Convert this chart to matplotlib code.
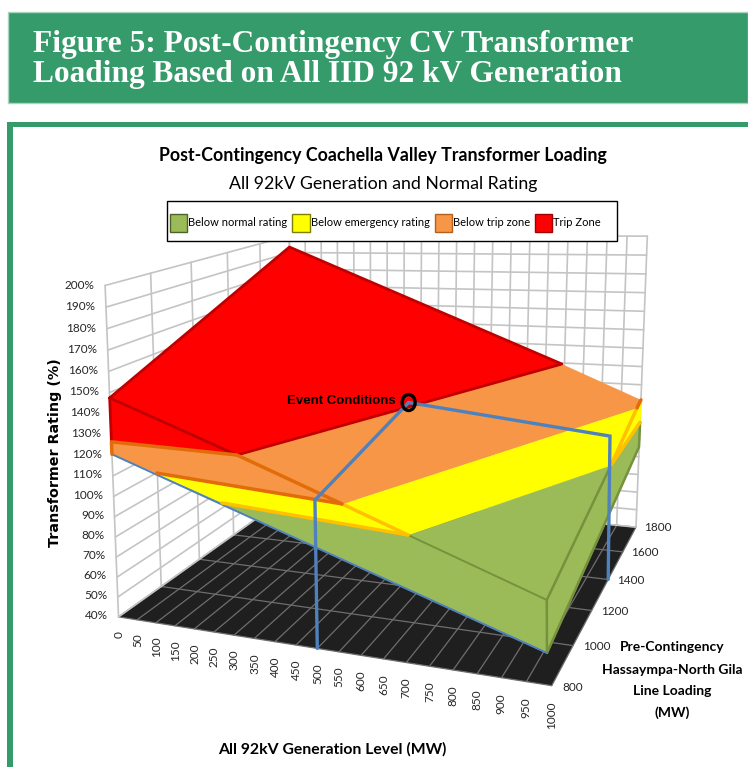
import numpy as np
import matplotlib
matplotlib.use('Agg')
import matplotlib.pyplot as plt
from matplotlib.patches import Ellipse, Patch, Rectangle
from matplotlib.transforms import IdentityTransform
from mpl_toolkits.mplot3d import proj3d
from mpl_toolkits.mplot3d.art3d import Line3DCollection, Poly3DCollection

plt.rcParams['font.family'] = ['Lato', 'DejaVu Sans']

W, H = 748, 767

gen_ticks = list(range(0, 1001, 50))
load_ticks = [800, 1000, 1200, 1400, 1600, 1800]
pct_ticks = list(range(40, 201, 10))

legend_labels = ['Below normal rating', 'Below emergency rating', 'Below trip zone', 'Trip Zone']

# surface vertices as (generation MW, line loading MW, rating %)
a = (0, 800, 147.5)
l = (0, 800, 126.5)
w = (0, 800, 120.5)
m = (116, 800, 113.5)
p = (278, 800, 102.5)
f = (986, 800, 76.4)
g = (989, 800, 53.8)
c = (0, 1800, 193.3)
d = (793, 1800, 129.4)
e = (1000, 1800, 111.7)
q = (1000, 1739, 110.2)
r = (1000, 1384, 99.2)
t = (1000, 1800, 99.3)
s = (1000, 1798, 85.6)
b = (229, 975, 114.2)
n = (484, 987, 94.4)
o = (637, 994, 82.4)

# event conditions and its drop lines
event = (500, 1400, 123)
event_front = [event, (498, 800, 108.3), (500, 800, 40)]
event_right = [event, (1000, 1357, 115), (1000, 1400, 40)]

GREEN = '#9bbb59'
YELLOW = '#ffff00'
ORANGE = '#f79646'
RED = '#ff0000'
DK_GREEN = '#76923c'
DK_ORANGE = '#e36c0a'
AMBER = '#ffc000'
DK_RED = '#c00000'
BLUE = '#4f81bd'
FRAME = '#369b6a'

# the facets, back to front
facets = [
    ([a, c, d, b], RED),
    ([a, l, b], RED),
    ([l, b, n, m, w], ORANGE),
    ([m, n, o, p], YELLOW),
    ([w, p, o, f, g], GREEN),
    ([b, d, e, q, n], ORANGE),
    ([n, q, r, o], YELLOW),
    ([o, r, f], GREEN),
    ([f, g, s, t, r], GREEN),
    ([q, e, t, r], YELLOW),
]

creases = [
    ([p, o, f], DK_GREEN, 1.4),
    ([t, s, g, f, r], DK_GREEN, 1.8),
    ([w, g], BLUE, 1.4),
    ([a, c, d, b, a, l], DK_RED, 2),
    ([n, o], AMBER, 2.5),
    ([p, o], AMBER, 2.5),
    ([q, r, t], AMBER, 2.5),
    ([w, l, b, n], DK_ORANGE, 2.5),
    ([m, n], DK_ORANGE, 2.5),
    ([e, q], DK_ORANGE, 2.5),
]

# picture positions of known chart points, used only to fit the camera
camera_points = [
    ((0, 800, 40), (119, 618)), ((1000, 800, 40), (549, 685)),
    ((1000, 1800, 40), (637, 524)), ((0, 800, 200), (106, 283)),
    ((1000, 1800, 200), (648, 237)), ((0, 1800, 200), (288, 237)),
    ((500, 800, 40), (318, 648)), ((1000, 1000, 40), (574, 647)),
    ((1000, 1200, 40), (592, 612)), ((1000, 1400, 40), (607, 580)),
    ((1000, 1600, 40), (623, 552)),
]


def fit_camera(ax):
    # Excel's perspective is not one mplot3d can ask for, so solve for it
    to_view = ax.transData.inverted()
    scale3d = np.diag([1 / 1000, 1 / 1000, 1 / 100, 1.0])
    rows = []
    for xyz, (u, v) in camera_points:
        x = scale3d @ np.array([*xyz, 1.0])
        vu, vv = to_view.transform((u, H - v)) * 10
        rows.append([*x, 0, 0, 0, 0, *(-vu * x)])
        rows.append([0, 0, 0, 0, *x, *(-vv * x)])
    sol = np.linalg.svd(np.array(rows))[2][-1].reshape(3, 4)
    cam = np.diag([0.1, 0.1, 1.0]) @ sol @ scale3d
    return np.array([cam[0], cam[1], [0, 1e-3, 0, 0], cam[2]])


def draw_line(ax, pts, color, lw, zorder, join='round'):
    ax.add_collection3d(Line3DCollection([pts], colors=color, linewidths=lw, zorder=zorder,
                                         joinstyle=join, capstyle='round'), autolim=False)


def view_xy(ax, x, y, z):
    tx, ty, _ = proj3d.proj_transform(x, y, z, ax.get_proj())
    return tx, ty


def label_at(ax, x, y, z, text, **kw):
    tx, ty = view_xy(ax, x, y, z)
    ax.text2D(tx, ty, text, transform=ax.transData, **kw)


fig = plt.figure(figsize=(W / 100, H / 100), dpi=100, facecolor='white')

# page furniture behind the chart
fig.add_artist(Rectangle((8 / W, 1 - 103 / H), 740 / W, 91 / H, transform=fig.transFigure,
                         fc=FRAME, ec='#a9d5bf', lw=1, zorder=-2))
fig.add_artist(Rectangle((7 / W, 0), 741 / W, 1 - 122 / H, transform=fig.transFigure,
                         fc=FRAME, ec='none', zorder=-2))
fig.add_artist(Rectangle((13 / W, 0), 735 / W, 1 - 127 / H, transform=fig.transFigure,
                         fc='white', ec='none', zorder=-1))
fig.text(33 / W, 1 - 52 / H, 'Figure 5: Post-Contingency CV Transformer', color='white',
         family='Liberation Serif', weight='bold', fontsize=22.6, va='baseline')
fig.text(33 / W, 1 - 82 / H, 'Loading Based on All IID 92 kV Generation', color='white',
         family='Liberation Serif', weight='bold', fontsize=22.6, va='baseline')

ax = fig.add_axes([0, 0, 1, 1], projection='3d', computed_zorder=False)
ax.set_axis_off()
ax.patch.set_visible(False)
ax.apply_aspect()
M = fit_camera(ax)
ax.get_proj = lambda: M

ax.set_xlim(0, 1000)
ax.set_ylim(800, 1800)
ax.set_zlim(40, 200)

# floor
floor = [(0, 800, 40), (1000, 800, 40), (1000, 1800, 40), (0, 1800, 40)]
ax.add_collection3d(Poly3DCollection([floor], facecolor='#1f1f1f', edgecolor='none', zorder=1),
                    autolim=False)
for x in gen_ticks:
    draw_line(ax, [(x, 800, 40), (x, 1800, 40)], '#6e6e6e', 0.9, 2)
for y in load_ticks:
    draw_line(ax, [(0, y, 40), (1000, y, 40)], '#6e6e6e', 0.9, 2)

# walls
for z in pct_ticks:
    draw_line(ax, [(0, 800, z), (0, 1800, z), (1000, 1800, z)], '#c4c4c4', 1.2, 2)
for y in load_ticks:
    draw_line(ax, [(0, y, 40), (0, y, 200)], '#c4c4c4', 1.2, 2)
for x in gen_ticks:
    draw_line(ax, [(x, 1800, 40), (x, 1800, 200)], '#c4c4c4', 1.2, 2)

# surface
for i, (verts, col) in enumerate(facets):
    ax.add_collection3d(Poly3DCollection([verts], facecolor=col, edgecolor=col, lw=0.3,
                                         zorder=3 + i * 0.01), autolim=False)
for i, (pts, col, lw) in enumerate(creases):
    draw_line(ax, pts, col, lw, 4 + i * 0.01)

# event conditions
draw_line(ax, event_front, BLUE, 2.4, 5, join='miter')
draw_line(ax, event_right, BLUE, 2.4, 5, join='miter')
marker_xy = ax.transData.transform(view_xy(ax, *event))
fig.add_artist(Ellipse(marker_xy, 13, 16, transform=IdentityTransform(), fill=False,
                       ec='black', lw=2.4, zorder=3))
label_at(ax, 465, 1400, 123.5, 'Event Conditions', family='Liberation Sans', weight='bold',
         fontsize=9.5, ha='right', va='center', color='black', zorder=7)

# tick labels
for x in gen_ticks:
    label_at(ax, x, 800, 33, str(x), rotation=90, ha='center', va='top', fontsize=8.5,
             color='#262626')
for y in load_ticks:
    label_at(ax, 1020, y, 40, str(y), ha='left', va='center', fontsize=8.5, color='#262626')
for z in pct_ticks:
    label_at(ax, -28, 800, z, '%d%%' % z, ha='right', va='center', fontsize=8.5, color='#262626')

# titles
fig.text(383 / W, 1 - 156 / H, 'Post-Contingency Coachella Valley Transformer Loading',
         ha='center', va='center', weight='bold', fontsize=12.8)
fig.text(383 / W, 1 - 184 / H, 'All 92kV Generation and Normal Rating', ha='center', va='center',
         fontsize=12.8)
fig.text(55 / W, 1 - 453 / H, 'Transformer Rating (%)', rotation=90, ha='center', va='center',
         family='DejaVu Sans', weight='bold', fontsize=10.3)
fig.text(332 / W, 1 - 749 / H, 'All 92kV Generation Level (MW)', ha='center', va='center',
         weight='bold', fontsize=11.3)
for text, ypos in zip(['Pre-Contingency', 'Hassaympa-North Gila', 'Line Loading', '(MW)'],
                      [647, 670, 691, 713]):
    fig.text(672 / W, 1 - ypos / H, text, ha='center', va='center', weight='bold', fontsize=10)

# legend
fig.add_artist(Rectangle((167 / W, 1 - 241 / H), 450 / W, 40 / H, transform=fig.transFigure,
                         fc='white', ec='black', lw=1, zorder=4))
handles = [Patch(fc=col, ec=ec, lw=1) for col, ec in
           zip([GREEN, YELLOW, ORANGE, RED],
               ['#4f6228', '#7f7f00', '#b4611c', '#a00000'])]
leg = fig.legend(handles, legend_labels, ncol=4, mode='expand', loc='center left',
                 bbox_to_anchor=(169 / W, 1 - 243 / H, 433 / W, 40 / H), borderaxespad=0,
                 fontsize=8, frameon=False, handlelength=1.55, handleheight=2.1,
                 handletextpad=0.1, columnspacing=0.4, borderpad=0.1)

fig.savefig('out.png', dpi=100)
